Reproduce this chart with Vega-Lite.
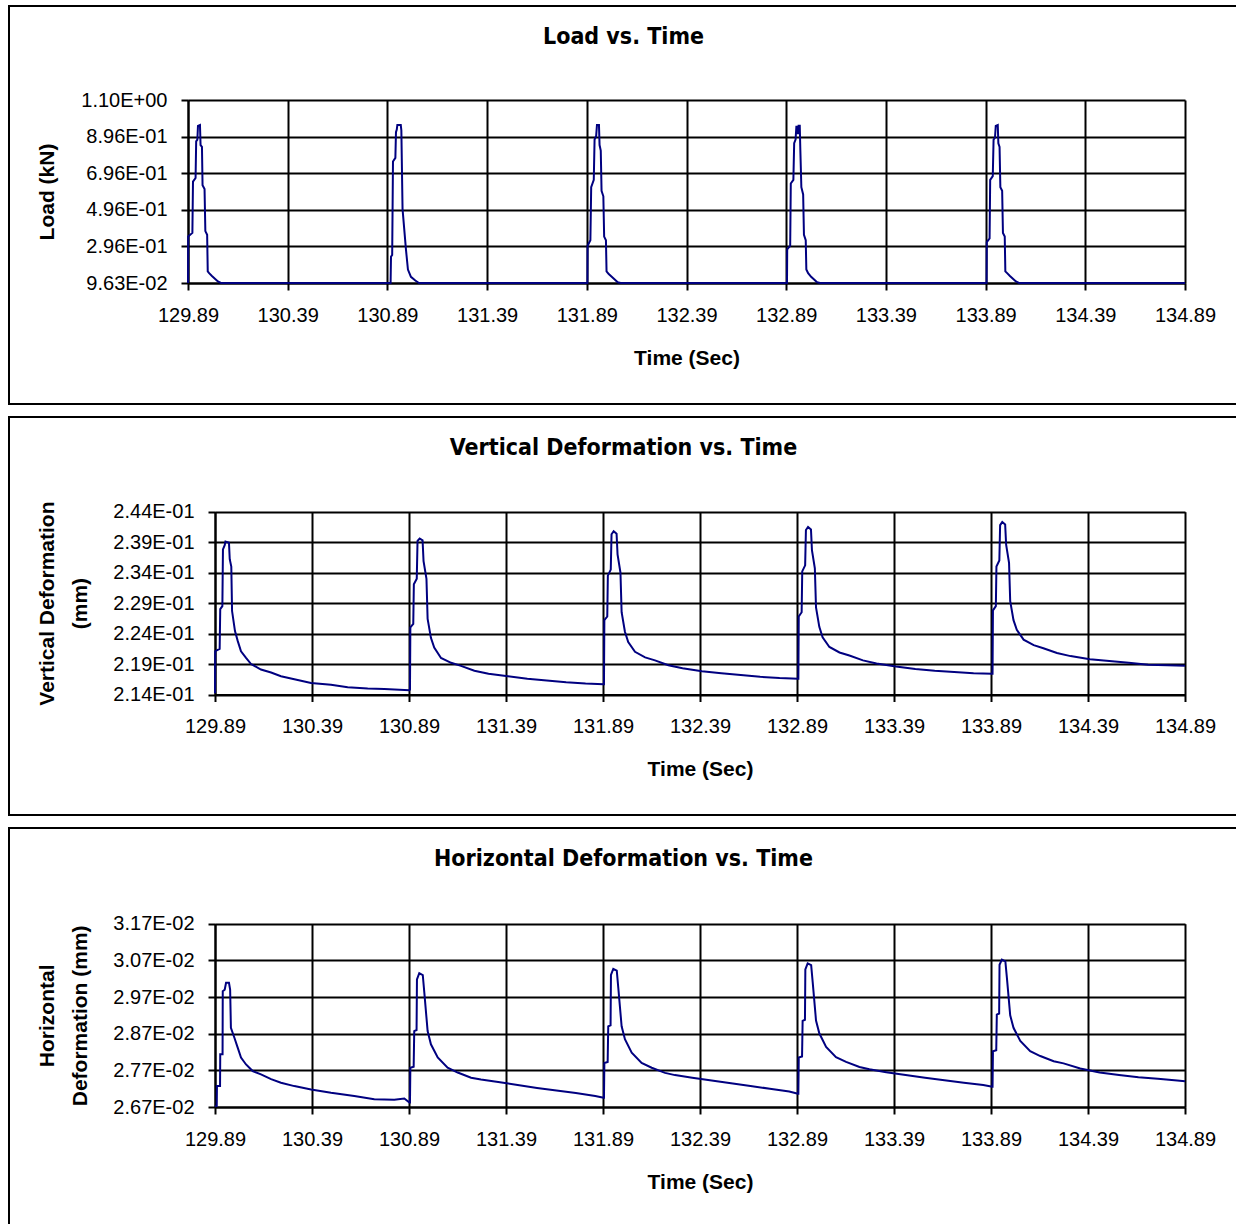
{
  "$schema": "https://vega.github.io/schema/vega-lite/v6.json",
  "padding": {"left": 8, "top": 5, "right": 0, "bottom": 0},
  "spacing": 11,
  "config": {
    "view": {"stroke": "black", "strokeWidth": 2},
    "background": "white",
    "axis": {
      "domainColor": "black", "domainWidth": 2,
      "tickColor": "black", "tickWidth": 2, "tickSize": 7,
      "gridColor": "black", "gridWidth": 2, "gridOpacity": 1,
      "labelFont": "Liberation Sans", "labelFontSize": 20, "labelColor": "black",
      "labelFlush": false, "labelOverlap": false,
      "titleFont": "Liberation Sans", "titleFontSize": 21, "titleFontWeight": "bold", "titleColor": "black"
    },
    "title": {"font": "Liberation Sans Narrow, DejaVu Sans Condensed, Liberation Sans", "fontSize": 23, "fontWeight": "bold", "color": "black", "anchor": "middle", "frame": "group", "offset": -43, "baseline": "middle"},
    "line": {"color": "#000080", "strokeWidth": 2, "clip": true}
  },
  "datasets": {
    "load": [
      {"t":129.890,"v":0.0965},{"t":129.891,"v":0.35},{"t":129.912,"v":0.37},{"t":129.915,"v":0.65},{"t":129.928,"v":0.67},{"t":129.931,"v":0.87},{"t":129.937,"v":0.88},{"t":129.940,"v":0.955},{"t":129.950,"v":0.96},{"t":129.953,"v":0.85},{"t":129.960,"v":0.84},{"t":129.963,"v":0.63},{"t":129.973,"v":0.61},{"t":129.977,"v":0.38},{"t":129.986,"v":0.36},{"t":129.989,"v":0.16},{"t":129.996,"v":0.15},{"t":130.010,"v":0.135},{"t":130.025,"v":0.12},{"t":130.040,"v":0.105},{"t":130.055,"v":0.0965},{"t":130.200,"v":0.0965},{"t":130.400,"v":0.0966},{"t":130.600,"v":0.0965},{"t":130.800,"v":0.0966},{"t":130.906,"v":0.0964},
      {"t":130.908,"v":0.24},{"t":130.914,"v":0.25},{"t":130.918,"v":0.76},{"t":130.930,"v":0.78},{"t":130.933,"v":0.92},{"t":130.937,"v":0.935},{"t":130.940,"v":0.96},{"t":130.957,"v":0.96},{"t":130.960,"v":0.93},{"t":130.966,"v":0.50},{"t":130.983,"v":0.28},{"t":130.993,"v":0.17},{"t":131.008,"v":0.13},{"t":131.030,"v":0.11},{"t":131.048,"v":0.0965},{"t":131.300,"v":0.0965},{"t":131.600,"v":0.0966},{"t":131.893,"v":0.0964},
      {"t":131.894,"v":0.30},{"t":131.908,"v":0.33},{"t":131.912,"v":0.62},{"t":131.925,"v":0.66},{"t":131.929,"v":0.88},{"t":131.937,"v":0.90},{"t":131.941,"v":0.96},{"t":131.951,"v":0.96},{"t":131.954,"v":0.85},{"t":131.960,"v":0.82},{"t":131.964,"v":0.60},{"t":131.973,"v":0.57},{"t":131.977,"v":0.35},{"t":131.986,"v":0.33},{"t":131.989,"v":0.16},{"t":132.000,"v":0.145},{"t":132.015,"v":0.13},{"t":132.030,"v":0.115},{"t":132.045,"v":0.10},{"t":132.060,"v":0.0965},{"t":132.300,"v":0.0965},{"t":132.600,"v":0.0966},{"t":132.894,"v":0.0964},
      {"t":132.895,"v":0.28},{"t":132.910,"v":0.30},{"t":132.913,"v":0.64},{"t":132.926,"v":0.66},{"t":132.930,"v":0.86},{"t":132.937,"v":0.88},{"t":132.941,"v":0.95},{"t":132.946,"v":0.95},{"t":132.949,"v":0.91},{"t":132.952,"v":0.955},{"t":132.958,"v":0.955},{"t":132.961,"v":0.82},{"t":132.966,"v":0.62},{"t":132.975,"v":0.58},{"t":132.979,"v":0.36},{"t":132.988,"v":0.33},{"t":132.991,"v":0.17},{"t":133.000,"v":0.15},{"t":133.015,"v":0.13},{"t":133.030,"v":0.115},{"t":133.045,"v":0.10},{"t":133.060,"v":0.0965},{"t":133.300,"v":0.0965},{"t":133.600,"v":0.0966},{"t":133.895,"v":0.0964},
      {"t":133.896,"v":0.32},{"t":133.910,"v":0.34},{"t":133.913,"v":0.66},{"t":133.926,"v":0.68},{"t":133.930,"v":0.88},{"t":133.937,"v":0.89},{"t":133.941,"v":0.955},{"t":133.951,"v":0.96},{"t":133.954,"v":0.86},{"t":133.960,"v":0.84},{"t":133.964,"v":0.62},{"t":133.973,"v":0.60},{"t":133.977,"v":0.37},{"t":133.986,"v":0.35},{"t":133.989,"v":0.16},{"t":133.998,"v":0.15},{"t":134.012,"v":0.135},{"t":134.027,"v":0.12},{"t":134.042,"v":0.105},{"t":134.057,"v":0.0965},{"t":134.300,"v":0.0966},{"t":134.600,"v":0.0965},{"t":134.890,"v":0.0965}
    ],
    "vert": [
      {"t":129.890,"v":0.2142},{"t":129.891,"v":0.2211},{"t":129.914,"v":0.2215},{"t":129.917,"v":0.2280},{"t":129.928,"v":0.2285},{"t":129.931,"v":0.2378},{"t":129.940,"v":0.2385},{"t":129.944,"v":0.2391},{"t":129.962,"v":0.2389},{"t":129.966,"v":0.2362},{"t":129.974,"v":0.2350},{"t":129.978,"v":0.2277},{"t":129.993,"v":0.2244},{"t":130.007,"v":0.2228},{"t":130.024,"v":0.2211},{"t":130.050,"v":0.2200},{"t":130.076,"v":0.2190},{"t":130.127,"v":0.2181},{"t":130.179,"v":0.2176},{"t":130.230,"v":0.2170},{"t":130.299,"v":0.2165},{"t":130.385,"v":0.2159},{"t":130.488,"v":0.2156},{"t":130.574,"v":0.2152},{"t":130.677,"v":0.2150},{"t":130.763,"v":0.2149},{"t":130.892,"v":0.2147},
      {"t":130.895,"v":0.2148},{"t":130.897,"v":0.2250},{"t":130.912,"v":0.2256},{"t":130.915,"v":0.2321},{"t":130.930,"v":0.2330},{"t":130.934,"v":0.2392},{"t":130.945,"v":0.2396},{"t":130.960,"v":0.2393},{"t":130.965,"v":0.2359},{"t":130.980,"v":0.2330},{"t":130.986,"v":0.2264},{"t":131.003,"v":0.2233},{"t":131.020,"v":0.2217},{"t":131.055,"v":0.2200},{"t":131.107,"v":0.2192},{"t":131.158,"v":0.2187},{"t":131.227,"v":0.2179},{"t":131.300,"v":0.2174},{"t":131.400,"v":0.2170},{"t":131.500,"v":0.2166},{"t":131.600,"v":0.2163},{"t":131.700,"v":0.2160},{"t":131.800,"v":0.2158},{"t":131.893,"v":0.2157},
      {"t":131.895,"v":0.2157},{"t":131.897,"v":0.2262},{"t":131.912,"v":0.2268},{"t":131.915,"v":0.2335},{"t":131.930,"v":0.2345},{"t":131.934,"v":0.2403},{"t":131.945,"v":0.2408},{"t":131.960,"v":0.2404},{"t":131.965,"v":0.2370},{"t":131.980,"v":0.2340},{"t":131.986,"v":0.2275},{"t":132.003,"v":0.2243},{"t":132.020,"v":0.2226},{"t":132.055,"v":0.2210},{"t":132.107,"v":0.2201},{"t":132.158,"v":0.2196},{"t":132.227,"v":0.2188},{"t":132.300,"v":0.2183},{"t":132.400,"v":0.2178},{"t":132.500,"v":0.2175},{"t":132.600,"v":0.2172},{"t":132.700,"v":0.2169},{"t":132.800,"v":0.2167},{"t":132.895,"v":0.2166},
      {"t":132.897,"v":0.2166},{"t":132.899,"v":0.2268},{"t":132.914,"v":0.2275},{"t":132.917,"v":0.2342},{"t":132.932,"v":0.2352},{"t":132.936,"v":0.2410},{"t":132.947,"v":0.2415},{"t":132.962,"v":0.2411},{"t":132.967,"v":0.2377},{"t":132.982,"v":0.2347},{"t":132.988,"v":0.2283},{"t":133.005,"v":0.2251},{"t":133.022,"v":0.2234},{"t":133.057,"v":0.2218},{"t":133.109,"v":0.2209},{"t":133.160,"v":0.2204},{"t":133.230,"v":0.2196},{"t":133.300,"v":0.2191},{"t":133.400,"v":0.2186},{"t":133.500,"v":0.2182},{"t":133.600,"v":0.2179},{"t":133.700,"v":0.2177},{"t":133.800,"v":0.2175},{"t":133.897,"v":0.2174},
      {"t":133.898,"v":0.2174},{"t":133.900,"v":0.2278},{"t":133.915,"v":0.2285},{"t":133.918,"v":0.2350},{"t":133.933,"v":0.2360},{"t":133.937,"v":0.2418},{"t":133.948,"v":0.2423},{"t":133.963,"v":0.2419},{"t":133.968,"v":0.2386},{"t":133.983,"v":0.2356},{"t":133.989,"v":0.2293},{"t":134.006,"v":0.2262},{"t":134.023,"v":0.2246},{"t":134.058,"v":0.2230},{"t":134.110,"v":0.2221},{"t":134.160,"v":0.2216},{"t":134.230,"v":0.2208},{"t":134.300,"v":0.2203},{"t":134.400,"v":0.2198},{"t":134.500,"v":0.2195},{"t":134.600,"v":0.2192},{"t":134.700,"v":0.2189},{"t":134.800,"v":0.2188},{"t":134.890,"v":0.2187}
    ],
    "horz": [
      {"t":129.890,"v":0.02672},{"t":129.899,"v":0.02673},{"t":129.900,"v":0.02727},{"t":129.916,"v":0.02727},{"t":129.917,"v":0.02814},{"t":129.929,"v":0.02814},{"t":129.930,"v":0.02986},{"t":129.940,"v":0.02990},{"t":129.947,"v":0.03009},{"t":129.962,"v":0.03009},{"t":129.968,"v":0.02990},{"t":129.972,"v":0.02886},{"t":129.990,"v":0.02859},{"t":130.007,"v":0.02832},{"t":130.024,"v":0.02805},{"t":130.050,"v":0.02786},{"t":130.084,"v":0.02768},{"t":130.127,"v":0.02759},{"t":130.179,"v":0.02746},{"t":130.230,"v":0.02736},{"t":130.299,"v":0.02727},{"t":130.385,"v":0.02718},{"t":130.488,"v":0.02709},{"t":130.608,"v":0.02700},{"t":130.711,"v":0.02691},{"t":130.814,"v":0.02690},{"t":130.866,"v":0.02693},{"t":130.892,"v":0.02682},
      {"t":130.895,"v":0.02682},{"t":130.897,"v":0.02777},{"t":130.914,"v":0.02780},{"t":130.917,"v":0.02877},{"t":130.929,"v":0.02880},{"t":130.931,"v":0.03018},{"t":130.943,"v":0.03035},{"t":130.961,"v":0.03030},{"t":130.969,"v":0.02982},{"t":130.986,"v":0.02877},{"t":131.003,"v":0.02841},{"t":131.038,"v":0.02805},{"t":131.089,"v":0.02777},{"t":131.141,"v":0.02764},{"t":131.210,"v":0.02750},{"t":131.261,"v":0.02745},{"t":131.350,"v":0.02738},{"t":131.450,"v":0.02730},{"t":131.550,"v":0.02722},{"t":131.650,"v":0.02715},{"t":131.750,"v":0.02708},{"t":131.850,"v":0.02700},{"t":131.893,"v":0.02695},
      {"t":131.895,"v":0.02695},{"t":131.897,"v":0.02790},{"t":131.914,"v":0.02793},{"t":131.917,"v":0.02890},{"t":131.929,"v":0.02893},{"t":131.931,"v":0.03030},{"t":131.943,"v":0.03047},{"t":131.961,"v":0.03042},{"t":131.969,"v":0.02994},{"t":131.986,"v":0.02890},{"t":132.003,"v":0.02855},{"t":132.038,"v":0.02818},{"t":132.089,"v":0.02790},{"t":132.141,"v":0.02777},{"t":132.210,"v":0.02763},{"t":132.261,"v":0.02757},{"t":132.350,"v":0.02750},{"t":132.450,"v":0.02742},{"t":132.550,"v":0.02735},{"t":132.650,"v":0.02727},{"t":132.750,"v":0.02720},{"t":132.850,"v":0.02712},{"t":132.895,"v":0.02706},
      {"t":132.897,"v":0.02706},{"t":132.899,"v":0.02805},{"t":132.916,"v":0.02808},{"t":132.919,"v":0.02905},{"t":132.931,"v":0.02908},{"t":132.933,"v":0.03045},{"t":132.945,"v":0.03062},{"t":132.963,"v":0.03057},{"t":132.971,"v":0.03010},{"t":132.988,"v":0.02906},{"t":133.005,"v":0.02871},{"t":133.040,"v":0.02834},{"t":133.091,"v":0.02806},{"t":133.143,"v":0.02793},{"t":133.212,"v":0.02779},{"t":133.263,"v":0.02773},{"t":133.350,"v":0.02765},{"t":133.450,"v":0.02757},{"t":133.550,"v":0.02750},{"t":133.650,"v":0.02743},{"t":133.750,"v":0.02736},{"t":133.850,"v":0.02730},{"t":133.897,"v":0.02725},
      {"t":133.898,"v":0.02725},{"t":133.900,"v":0.02822},{"t":133.917,"v":0.02825},{"t":133.920,"v":0.02922},{"t":133.932,"v":0.02925},{"t":133.934,"v":0.03058},{"t":133.946,"v":0.03072},{"t":133.964,"v":0.03067},{"t":133.972,"v":0.03022},{"t":133.989,"v":0.02920},{"t":134.006,"v":0.02886},{"t":134.041,"v":0.02850},{"t":134.092,"v":0.02822},{"t":134.144,"v":0.02809},{"t":134.213,"v":0.02795},{"t":134.264,"v":0.02789},{"t":134.350,"v":0.02775},{"t":134.450,"v":0.02764},{"t":134.550,"v":0.02757},{"t":134.650,"v":0.02751},{"t":134.750,"v":0.02747},{"t":134.850,"v":0.02742},{"t":134.890,"v":0.02740}
    ]
  },
  "vconcat": [
    {
      "width": 1229, "height": 398,
      "title": "Load vs. Time",
      "data": {"name": "load"},
      "resolve": {"axis": {"x": "independent"}},
      "layer": [
        {
          "mark": {"type": "line", "strokeOpacity": 0},
          "encoding": {
            "x": {"field": "t", "type": "quantitative",
              "scale": {"domain": [129.89, 134.89], "range": [179, 1176], "nice": false, "zero": false},
              "axis": {"orient": "top", "grid": true, "labels": false, "ticks": false, "domain": false, "title": null, "values": [129.89,130.39,130.89,131.39,131.89,132.39,132.89,133.39,133.89,134.39,134.89]}},
            "y": {"field": "v", "type": "quantitative",
              "scale": {"domain": [0.0963, 1.0963], "range": [277, 94], "nice": false, "zero": false},
              "axis": {"title": "Load (kN)", "values": [0.0963,0.2963,0.4963,0.6963,0.8963,1.0963], "labelExpr": "datum.value < 0.1 ? '9.63E-02' : datum.value > 1 ? '1.10E+00' : format(datum.value*10, '.2f') + 'E-01'", "offset": -179, "labelPadding": 14, "titlePadding": 23}}
          }
        },
        {
          "mark": {"type": "line"},
          "encoding": {
            "x": {"field": "t", "type": "quantitative",
              "axis": {"title": "Time (Sec)", "grid": false, "values": [129.89,130.39,130.89,131.39,131.89,132.39,132.89,133.39,133.89,134.39,134.89], "format": ".2f", "offset": -121, "labelPadding": 15, "titlePadding": 22}},
            "y": {"field": "v", "type": "quantitative",
              "scale": {"domain": [0.0963, 1.0963], "range": [277, 94], "nice": false, "zero": false},
              "axis": {"title": "Load (kN)", "values": [0.0963,0.2963,0.4963,0.6963,0.8963,1.0963], "labelExpr": "datum.value < 0.1 ? '9.63E-02' : datum.value > 1 ? '1.10E+00' : format(datum.value*10, '.2f') + 'E-01'", "offset": -179, "labelPadding": 14, "titlePadding": 23}}
          }
        }
      ]
    },
    {
      "width": 1229, "height": 398,
      "title": "Vertical Deformation vs. Time",
      "data": {"name": "vert"},
      "resolve": {"axis": {"x": "independent"}},
      "layer": [
        {
          "mark": {"type": "line", "strokeOpacity": 0},
          "encoding": {
            "x": {"field": "t", "type": "quantitative",
              "scale": {"domain": [129.89, 134.89], "range": [206, 1176], "nice": false, "zero": false},
              "axis": {"orient": "top", "grid": true, "labels": false, "ticks": false, "domain": false, "title": null, "values": [129.89,130.39,130.89,131.39,131.89,132.39,132.89,133.39,133.89,134.39,134.89]}},
            "y": {"field": "v", "type": "quantitative",
              "scale": {"domain": [0.214, 0.244], "range": [277.5, 94.7], "nice": false, "zero": false},
              "axis": {"title": ["Vertical Deformation", "(mm)"], "titleLineHeight": 33, "values": [0.214,0.219,0.224,0.229,0.234,0.239,0.244], "labelExpr": "format(datum.value*10, '.2f') + 'E-01'", "offset": -206, "labelPadding": 14, "titlePadding": 22}}
          }
        },
        {
          "mark": {"type": "line"},
          "encoding": {
            "x": {"field": "t", "type": "quantitative",
              "axis": {"title": "Time (Sec)", "grid": false, "values": [129.89,130.39,130.89,131.39,131.89,132.39,132.89,133.39,133.89,134.39,134.89], "format": ".2f", "offset": -120.5, "labelPadding": 15, "titlePadding": 22}},
            "y": {"field": "v", "type": "quantitative",
              "scale": {"domain": [0.214, 0.244], "range": [277.5, 94.7], "nice": false, "zero": false},
              "axis": {"title": ["Vertical Deformation", "(mm)"], "titleLineHeight": 33, "values": [0.214,0.219,0.224,0.229,0.234,0.239,0.244], "labelExpr": "format(datum.value*10, '.2f') + 'E-01'", "offset": -206, "labelPadding": 14, "titlePadding": 22}}
          }
        }
      ]
    },
    {
      "width": 1229, "height": 398,
      "title": "Horizontal Deformation vs. Time",
      "data": {"name": "horz"},
      "resolve": {"axis": {"x": "independent"}},
      "layer": [
        {
          "mark": {"type": "line", "strokeOpacity": 0},
          "encoding": {
            "x": {"field": "t", "type": "quantitative",
              "scale": {"domain": [129.89, 134.89], "range": [206, 1176], "nice": false, "zero": false},
              "axis": {"orient": "top", "grid": true, "labels": false, "ticks": false, "domain": false, "title": null, "values": [129.89,130.39,130.89,131.39,131.89,132.39,132.89,133.39,133.89,134.39,134.89]}},
            "y": {"field": "v", "type": "quantitative",
              "scale": {"domain": [0.0267, 0.0317], "range": [279, 95.7], "nice": false, "zero": false},
              "axis": {"title": ["Horizontal", "Deformation (mm)"], "titleLineHeight": 33, "values": [0.0267,0.0277,0.0287,0.0297,0.0307,0.0317], "labelExpr": "format(datum.value*100, '.2f') + 'E-02'", "offset": -206, "labelPadding": 14, "titlePadding": 22}}
          }
        },
        {
          "mark": {"type": "line"},
          "encoding": {
            "x": {"field": "t", "type": "quantitative",
              "axis": {"title": "Time (Sec)", "grid": false, "values": [129.89,130.39,130.89,131.39,131.89,132.39,132.89,133.39,133.89,134.39,134.89], "format": ".2f", "offset": -119, "labelPadding": 15, "titlePadding": 22}},
            "y": {"field": "v", "type": "quantitative",
              "scale": {"domain": [0.0267, 0.0317], "range": [279, 95.7], "nice": false, "zero": false},
              "axis": {"title": ["Horizontal", "Deformation (mm)"], "titleLineHeight": 33, "values": [0.0267,0.0277,0.0287,0.0297,0.0307,0.0317], "labelExpr": "format(datum.value*100, '.2f') + 'E-02'", "offset": -206, "labelPadding": 14, "titlePadding": 22}}
          }
        }
      ]
    }
  ]
}
